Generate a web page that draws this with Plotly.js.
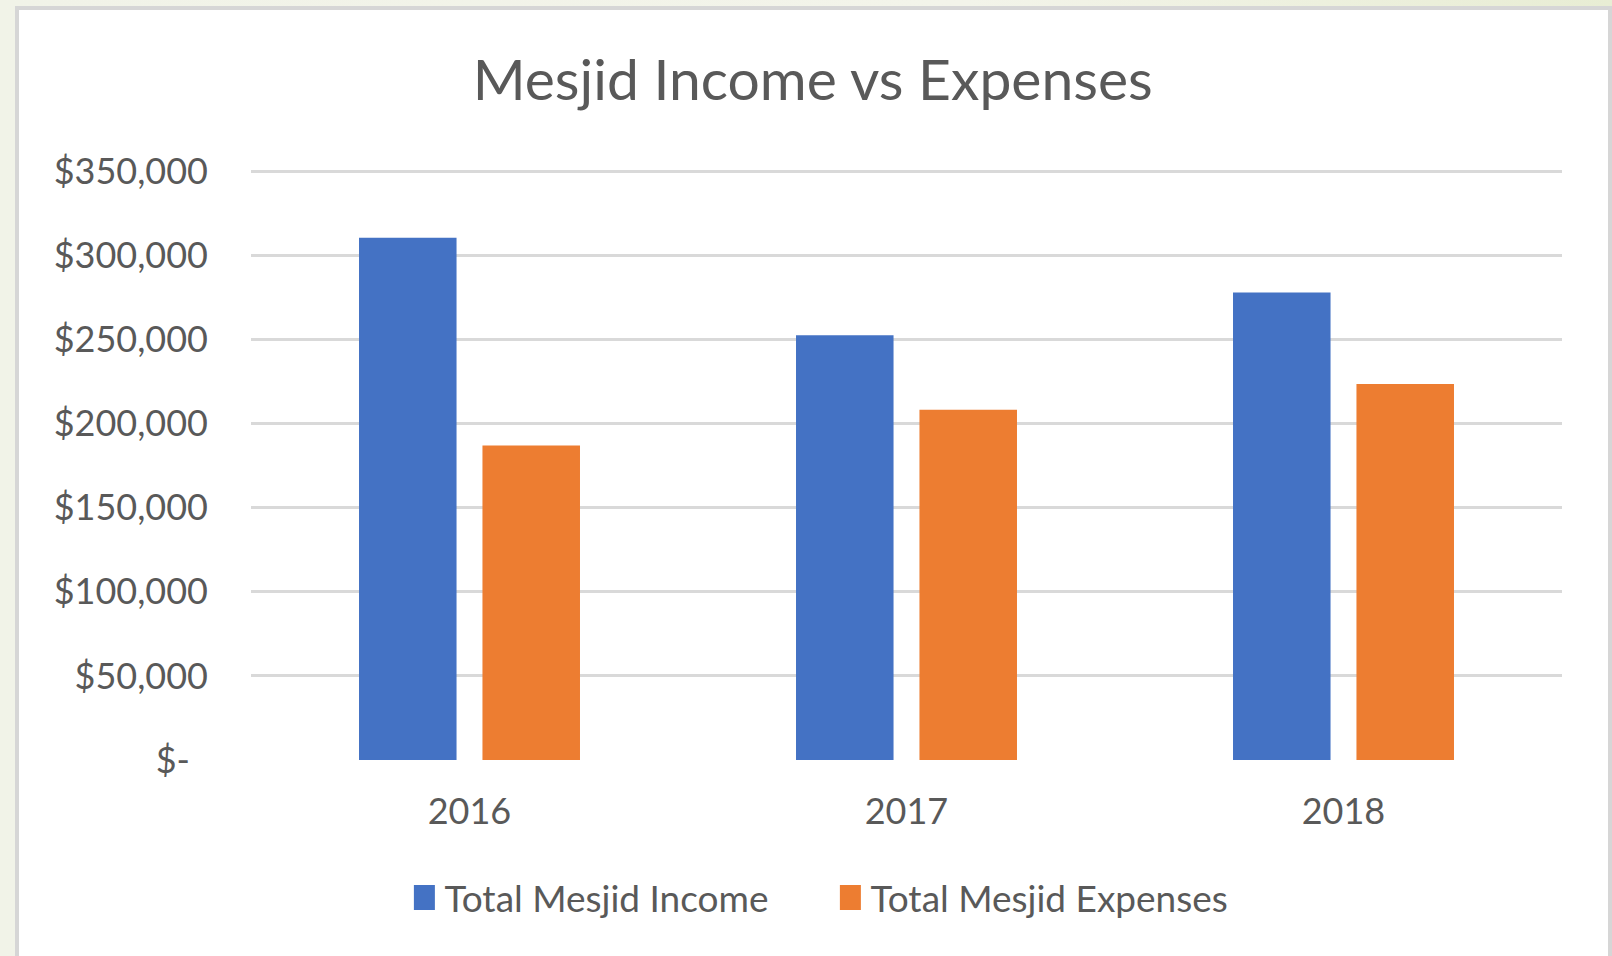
<!DOCTYPE html>
<html>
<head>
<meta charset="utf-8">
<script src="https://cdn.plot.ly/plotly-3.0.1.min.js"></script>
<style>
  html, body { margin: 0; padding: 0; width: 1612px; height: 956px; overflow: hidden;
    background: linear-gradient(90deg, #f1f3e8 0%, #f3f4ea 60%, #e8edd4 100%); }
  #frame { position: absolute; left: 15px; top: 6px; width: 1597px; height: 960px;
    box-sizing: border-box; border: 4px solid #d6d6d6; border-bottom: none; background: #ffffff; }
  #chart { position: absolute; left: 0; top: 0; width: 1589px; height: 950px; }
</style>
</head>
<body>
<div id="frame"><div id="chart"></div></div>
<script>
const years = ['2016', '2017', '2018'];
const income = [310500, 252500, 278000];
const expenses = [187000, 208300, 223500];
const tickValues = [0, 50000, 100000, 150000, 200000, 250000, 300000, 350000];
const tickLabels = ['$-\u2002', '$50,000', '$100,000', '$150,000', '$200,000', '$250,000', '$300,000', '$350,000'];
const seriesNames = ['Total Mesjid Income', 'Total Mesjid Expenses'];
const titleText = 'Mesjid Income vs Expenses';

const fontFam = 'Lato, "Open Sans", sans-serif';
const textColor = '#595959';

const data = [
  { type: 'bar', x: years, y: income, name: seriesNames[0], marker: { color: '#4472C4' }, hoverinfo: 'skip' },
  { type: 'bar', x: years, y: expenses, name: seriesNames[1], marker: { color: '#ED7D31' }, hoverinfo: 'skip' }
];

const layout = {
  width: 1589, height: 950,
  paper_bgcolor: '#ffffff', plot_bgcolor: '#ffffff',
  margin: { l: 232, r: 46, t: 157.6, b: 200, pad: 0 },
  barmode: 'group', bargap: 0.435, bargroupgap: 0.21,
  font: { family: fontFam, color: textColor, size: 36 },
  title: { text: titleText, x: 0.4995, xref: 'container', xanchor: 'center',
           y: 0.926, yref: 'container', yanchor: 'middle',
           font: { family: fontFam, size: 57, color: textColor } },
  xaxis: { type: 'category', showgrid: false, zeroline: false, showline: false, ticks: '',
           tickfont: { family: fontFam, size: 36, color: textColor }, ticklabelstandoff: 27 },
  yaxis: { range: [0, 352000], tickvals: tickValues, ticktext: tickLabels,
           showgrid: true, gridcolor: '#d9d9d9', gridwidth: 3, zeroline: false, showline: false, ticks: '',
           tickfont: { family: fontFam, size: 36, color: textColor }, ticklabelstandoff: 42 },
  showlegend: true,
  legend: { orientation: 'h', x: 0.117, xanchor: 'left', y: -0.233, yanchor: 'middle',
            font: { family: fontFam, size: 37, color: textColor }, itemwidth: 30,
            entrywidth: 381, entrywidthmode: 'pixels',
            traceorder: 'normal', bgcolor: 'rgba(0,0,0,0)' }
};

Plotly.newPlot('chart', data, layout, { staticPlot: true, displayModeBar: false }).then(function () {
  document.querySelectorAll('#chart .legend .legendpoints path').forEach(function (p) {
    p.setAttribute('d', 'M10.5,12.5H-10.5V-12.5H10.5Z');
  });
});
</script>
</body>
</html>
